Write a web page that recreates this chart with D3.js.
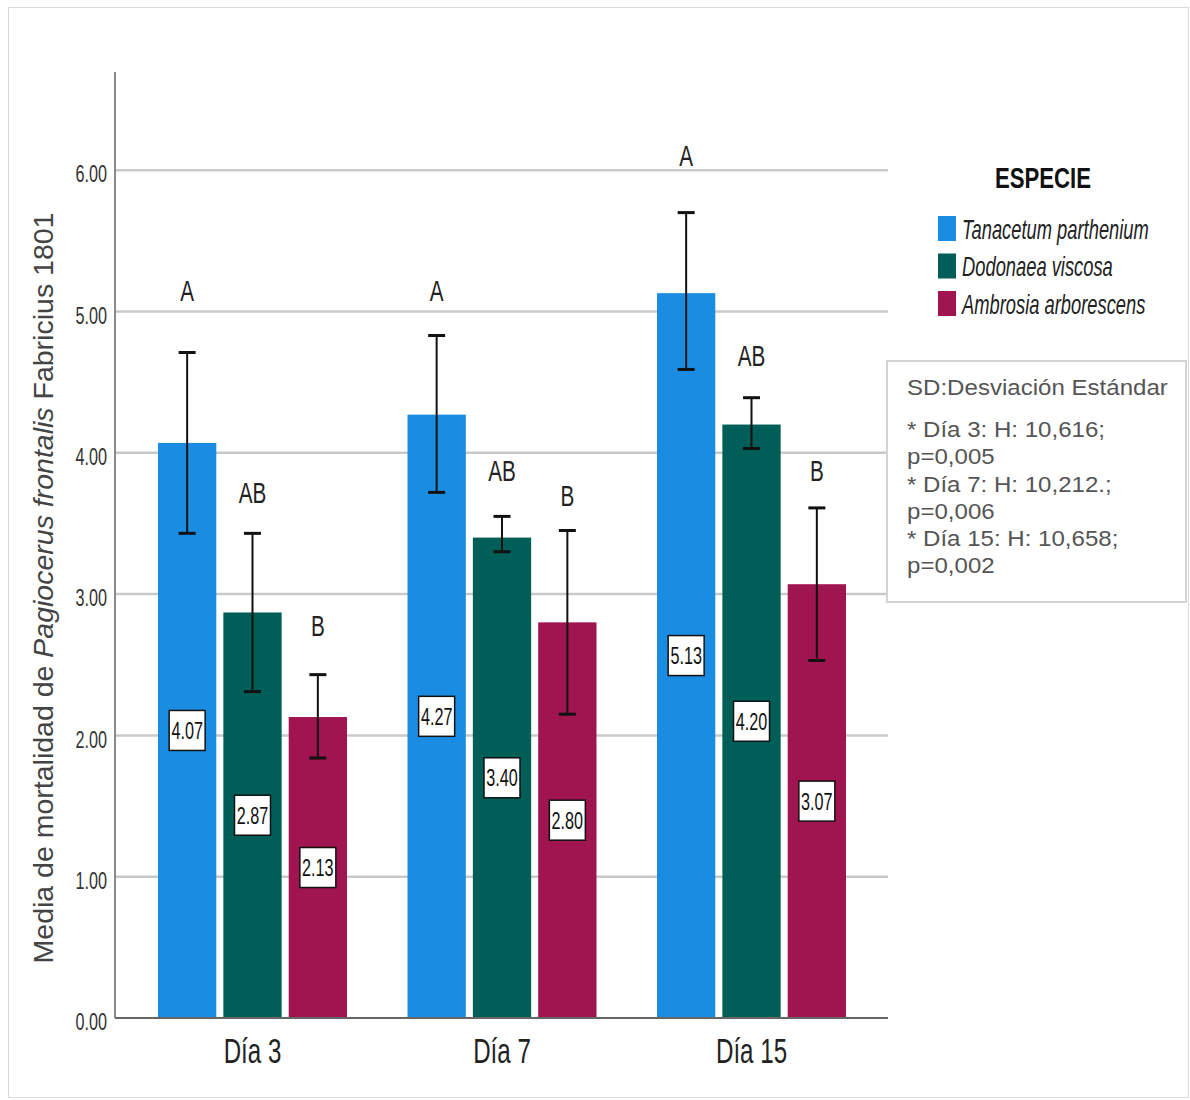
<!DOCTYPE html>
<html><head><meta charset="utf-8">
<script src="https://cdn.jsdelivr.net/npm/d3@7/dist/d3.min.js"></script>
<style>
body{margin:0;background:#fff;}
</style></head>
<body>
<svg id="chart" width="1190" height="1100"></svg>
<script>
// ---- data ----
const days = ["Día 3", "Día 7", "Día 15"];
const species = ["Tanacetum parthenium", "Dodonaea viscosa", "Ambrosia arborescens"];
const meanTanacetum = [4.07, 4.27, 5.13];
const meanDodonaea  = [2.87, 3.40, 4.20];
const meanAmbrosia  = [2.13, 2.80, 3.07];
const hiTanacetum = [4.71, 4.83, 5.70];
const loTanacetum = [3.43, 3.72, 4.59];
const hiDodonaea  = [3.43, 3.55, 4.39];
const loDodonaea  = [2.31, 3.30, 4.03];
const hiAmbrosia  = [2.43, 3.45, 3.61];
const loAmbrosia  = [1.84, 2.15, 2.53];
const letterTanacetum = ["A", "A", "A"];
const letterDodonaea  = ["AB", "AB", "AB"];
const letterAmbrosia  = ["B", "B", "B"];
const letterAtTanacetum = [5.15, 5.15, 6.11];
const letterAtDodonaea  = [3.72, 3.88, 4.69];
const letterAtAmbrosia  = [2.78, 3.70, 3.88];
const yTicks = [0, 1, 2, 3, 4, 5, 6];
const legendTitle = "ESPECIE";
const yTitleParts = [["Media de mortalidad de ", false], ["Pagiocerus frontalis", true], [" Fabricius 1801", false]];
const noteLines = ["SD:Desviación Estándar", "* Día 3: H: 10,616;", "p=0,005", "* Día 7: H: 10,212.;", "p=0,006", "* Día 15: H: 10,658;", "p=0,002"];

(function () {
const FONT = "Liberation Sans, Arial, sans-serif";
const SX = 0.69; // horizontal squeeze of the chart texts
const colors = ["#1a8de3", "#005e58", "#a0144f"];
const means = [meanTanacetum, meanDodonaea, meanAmbrosia];
const his = [hiTanacetum, hiDodonaea, hiAmbrosia];
const los = [loTanacetum, loDodonaea, loAmbrosia];
const letters = [letterTanacetum, letterDodonaea, letterAmbrosia];
const letterAt = [letterAtTanacetum, letterAtDodonaea, letterAtAmbrosia];

const svg = d3.select("#chart");
svg.append("rect").attr("x", 8.5).attr("y", 7.5).attr("width", 1180).attr("height", 1090)
  .attr("fill", "none").attr("stroke", "#dcdcdc").attr("stroke-width", 1);

const pLeft = 115, pRight = 888, pTop = 72, pBottom = 1018;
const y = d3.scaleLinear().domain([0, 6.695]).range([pBottom, pTop]);
const x0 = d3.scaleBand().domain(days).range([158, 846]).paddingInner(0.2425).paddingOuter(0);
const x1 = d3.scaleBand().domain(species).range([0, x0.bandwidth()]).paddingInner(0.108).paddingOuter(0);

function squeezed(g, x, yy, txt, size, opts = {}) {
  const t = g.append("text")
    .attr("transform", `translate(${x},${yy}) scale(${opts.sx || SX},1)`)
    .attr("font-family", FONT).attr("font-size", size)
    .attr("text-anchor", opts.anchor || "middle")
    .attr("fill", opts.fill || "#222").text(txt);
  if (opts.weight) t.attr("font-weight", opts.weight);
  if (opts.italic) t.attr("font-style", "italic");
  return t;
}

// grid
svg.append("g").selectAll("line").data(yTicks.filter(d => d > 0)).join("line")
  .attr("x1", pLeft).attr("x2", pRight).attr("y1", d => y(d)).attr("y2", d => y(d))
  .attr("stroke", "#c9c9c9").attr("stroke-width", 2.5);

// y axis
const yAxis = d3.axisLeft(y).tickValues(yTicks).tickFormat(d3.format(".2f")).tickSize(0).tickPadding(8);
const ya = svg.append("g").attr("transform", `translate(${pLeft},0)`).call(yAxis);
ya.select(".domain").remove();
ya.selectAll("text").attr("font-family", FONT).attr("font-size", 23.5).attr("fill", "#333")
  .attr("x", -8 / SX).attr("dy", "0.5em").attr("transform", `scale(${SX},1)`);
svg.append("line").attr("x1", pLeft).attr("x2", pLeft).attr("y1", pTop).attr("y2", pBottom)
  .attr("stroke", "#8a8a8a").attr("stroke-width", 2);

// bars
const flat = [];
days.forEach((d, i) => species.forEach((s, j) => flat.push({day: d, sp: s, j, m: means[j][i], hi: his[j][i], lo: los[j][i], L: letters[j][i], La: letterAt[j][i]})));
const bx = d => x0(d.day) + x1(d.sp);
const bc = d => bx(d) + x1.bandwidth() / 2;
svg.append("g").selectAll("rect").data(flat).join("rect")
  .attr("x", bx).attr("width", x1.bandwidth())
  .attr("y", d => y(d.m)).attr("height", d => y(0) - y(d.m))
  .attr("fill", d => colors[d.j]);

// x axis
svg.append("line").attr("x1", pLeft).attr("x2", pRight).attr("y1", pBottom).attr("y2", pBottom)
  .attr("stroke", "#666").attr("stroke-width", 2);
const xAxis = d3.axisBottom(x0).tickSize(0).tickPadding(0);
const xa = svg.append("g").attr("transform", `translate(0,${pBottom})`).call(xAxis);
xa.select(".domain").remove();
xa.selectAll("text").attr("font-family", FONT).attr("font-size", 35).attr("fill", "#222")
  .attr("y", 45).attr("dy", 0).attr("transform", `scale(${SX},1)`);

// error bars
const eb = svg.append("g").attr("stroke", "#111");
flat.forEach(d => {
  const cx = bc(d);
  eb.append("line").attr("x1", cx).attr("x2", cx).attr("y1", y(d.hi)).attr("y2", y(d.lo)).attr("stroke-width", 2);
  [d.hi, d.lo].forEach(v => eb.append("line").attr("x1", cx - 8.5).attr("x2", cx + 8.5)
    .attr("y1", y(v)).attr("y2", y(v)).attr("stroke-width", 3));
});

// significance letters
const lgL = svg.append("g");
flat.forEach(d => squeezed(lgL, bc(d), y(d.La) + 11, d.L, 30));

// value labels
const vl = svg.append("g");
flat.forEach(d => {
  const cy = y(d.m / 2);
  vl.append("rect").attr("x", bc(d) - 18).attr("y", cy - 20).attr("width", 36).attr("height", 40)
    .attr("fill", "#fff").attr("stroke", "#111").attr("stroke-width", 1.5);
  squeezed(vl, bc(d), cy + 8.5, d3.format(".2f")(d.m), 23.5, {fill: "#111"});
});

// legend
const lg = svg.append("g");
squeezed(lg, 1043, 188, legendTitle, 30, {weight: "bold", fill: "#111", sx: 0.74});
species.forEach((s, j) => {
  const yy = 228.5 + j * 37.5;
  lg.append("rect").attr("x", 938).attr("y", yy - 12.5).attr("width", 18).attr("height", 25).attr("fill", colors[j]);
  squeezed(lg, 962, yy + 10, s, 28, {anchor: "start", italic: true, sx: 0.655});
});

// note box
svg.append("rect").attr("x", 887).attr("y", 361).attr("width", 299).attr("height", 241)
  .attr("fill", "#fff").attr("stroke", "#d4d4d4").attr("stroke-width", 2);
const nt = svg.append("text").attr("transform", "translate(907,0) scale(1.12,1)")
  .attr("font-family", FONT).attr("font-size", 21.5).attr("fill", "#555");
noteLines.forEach((t, i) => {
  nt.append("tspan").attr("x", 0).attr("y", i === 0 ? 395 : 437 + (i - 1) * 27.3).text(t);
});

// y title
const yt = svg.append("text").attr("transform", "translate(53,588) rotate(-90)")
  .attr("text-anchor", "middle").attr("font-family", FONT)
  .attr("font-size", 28.5).attr("fill", "#444");
yTitleParts.forEach(([t, it]) => yt.append("tspan").attr("font-style", it ? "italic" : "normal").text(t));
})();
</script>
</body></html>
